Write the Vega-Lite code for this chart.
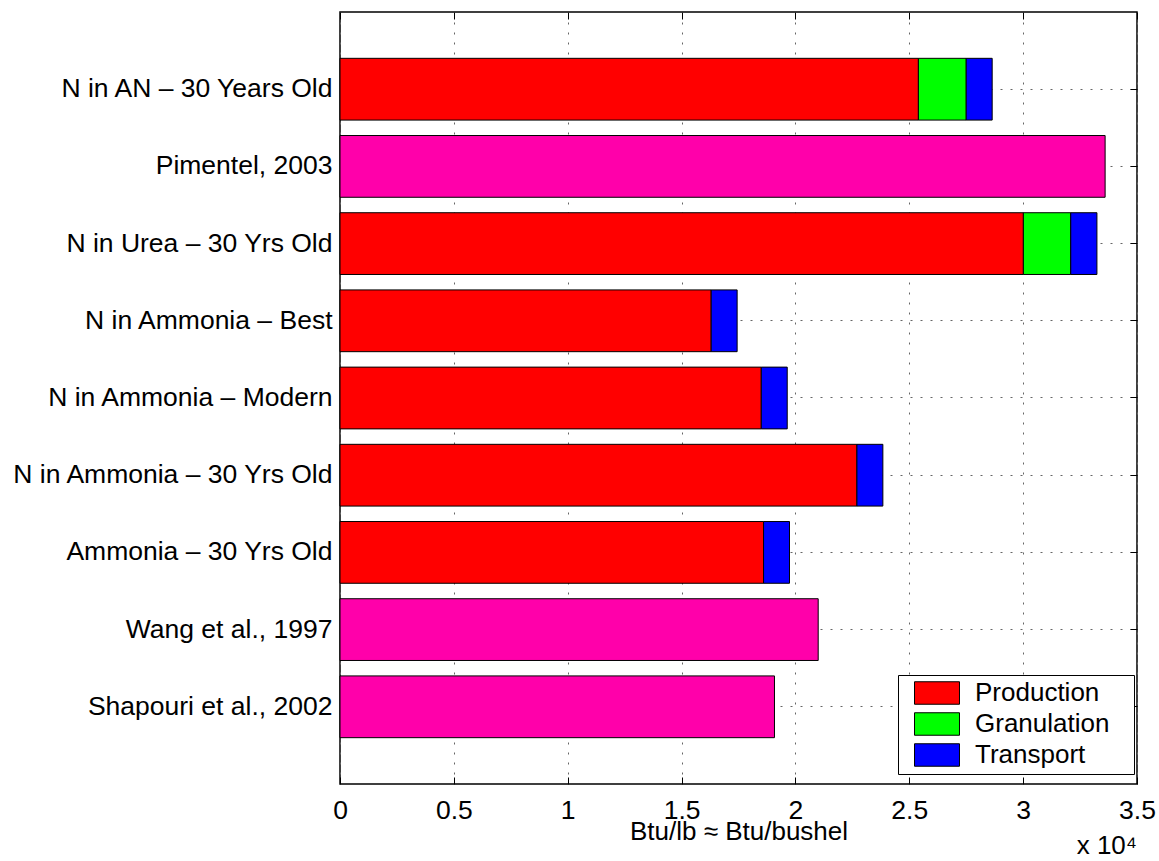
{
  "$schema": "https://vega.github.io/schema/vega-lite/v6.json",
  "width": 797,
  "height": 772,
  "autosize": {"type": "none"},
  "padding": {"left": 340, "top": 12, "right": 22, "bottom": 77},
  "background": "white",
  "config": {
    "font": "Liberation Sans",
    "view": {"stroke": "#000", "strokeWidth": 1.5}
  },
  "title": {"text": "x 10⁴", "orient": "bottom", "anchor": "end", "frame": "group", "fontSize": 26, "fontWeight": "normal", "color": "#000", "offset": -12},
  "data": {
    "values": [
      {"label": "N in AN – 30 Years Old", "component": "Production", "seq": 1, "value": 25400},
      {"label": "N in AN – 30 Years Old", "component": "Granulation", "seq": 2, "value": 2100},
      {"label": "N in AN – 30 Years Old", "component": "Transport", "seq": 3, "value": 1140},
      {"label": "Pimentel, 2003", "component": "Reference", "seq": 1, "value": 33600},
      {"label": "N in Urea – 30 Yrs Old", "component": "Production", "seq": 1, "value": 30010},
      {"label": "N in Urea – 30 Yrs Old", "component": "Granulation", "seq": 2, "value": 2080},
      {"label": "N in Urea – 30 Yrs Old", "component": "Transport", "seq": 3, "value": 1150},
      {"label": "N in Ammonia – Best", "component": "Production", "seq": 1, "value": 16300},
      {"label": "N in Ammonia – Best", "component": "Transport", "seq": 3, "value": 1140},
      {"label": "N in Ammonia – Modern", "component": "Production", "seq": 1, "value": 18500},
      {"label": "N in Ammonia – Modern", "component": "Transport", "seq": 3, "value": 1140},
      {"label": "N in Ammonia – 30 Yrs Old", "component": "Production", "seq": 1, "value": 22700},
      {"label": "N in Ammonia – 30 Yrs Old", "component": "Transport", "seq": 3, "value": 1140},
      {"label": "Ammonia – 30 Yrs Old", "component": "Production", "seq": 1, "value": 18600},
      {"label": "Ammonia – 30 Yrs Old", "component": "Transport", "seq": 3, "value": 1140},
      {"label": "Wang et al., 1997", "component": "Reference", "seq": 1, "value": 21000},
      {"label": "Shapouri et al., 2002", "component": "Reference", "seq": 1, "value": 19080}
    ]
  },
  "layer": [
    {
      "mark": {"type": "bar", "stroke": "#000", "strokeWidth": 1},
      "encoding": {
        "y": {
          "field": "label", "type": "nominal",
          "sort": ["N in AN – 30 Years Old", "Pimentel, 2003", "N in Urea – 30 Yrs Old", "N in Ammonia – Best", "N in Ammonia – Modern", "N in Ammonia – 30 Yrs Old", "Ammonia – 30 Yrs Old", "Wang et al., 1997", "Shapouri et al., 2002"],
          "scale": {"paddingInner": 0.2, "paddingOuter": 0.6},
          "axis": {"title": null, "labelFontSize": 26.5, "labelColor": "#000", "labelLimit": 500, "labelPadding": 15, "tickSize": -7, "tickColor": "#000", "domain": false, "grid": true, "gridColor": "#666", "gridDash": [2, 8], "bandPosition": 0.5}
        },
        "x": {
          "field": "value", "type": "quantitative", "stack": "zero",
          "scale": {"domain": [0, 35000], "nice": false},
          "axis": {"values": [0, 5000, 10000, 15000, 20000, 25000, 30000, 35000], "labelExpr": "datum.value / 10000", "title": "Btu/lb ≈ Btu/bushel", "titleFontSize": 26, "titleFontWeight": "normal", "titleColor": "#000", "titlePadding": -5, "labelFontSize": 26.5, "labelColor": "#000", "labelPadding": 20, "labelFlush": false, "labelOverlap": false, "tickSize": -7, "tickColor": "#000", "domain": false, "grid": true, "gridColor": "#666", "gridDash": [2, 8]}
        },
        "color": {
          "field": "component", "type": "nominal",
          "scale": {"domain": ["Production", "Granulation", "Transport", "Reference"], "range": ["#ff0000", "#00ff00", "#0000ff", "#ff00aa"]},
          "legend": {"orient": "none", "legendX": 558, "legendY": 663, "title": null, "values": ["Production", "Granulation", "Transport"], "strokeColor": "#000", "fillColor": "#fff", "padding": 5, "symbolType": "M-2,-1H2V1H-2Z", "symbolSize": 506, "symbolStrokeColor": "#000", "symbolStrokeWidth": 1, "symbolOpacity": 1, "symbolOffset": 21, "labelOffset": 25, "labelFontSize": 26, "labelColor": "#000", "labelLimit": 400, "rowPadding": 3, "labelExpr": "datum.label + '\u2800'"}
        },
        "order": {"field": "seq", "type": "quantitative"}
      }
    },
    {
      "mark": {"type": "bar", "opacity": 0},
      "encoding": {
        "y": {
          "field": "label", "type": "nominal",
          "sort": ["N in AN – 30 Years Old", "Pimentel, 2003", "N in Urea – 30 Yrs Old", "N in Ammonia – Best", "N in Ammonia – Modern", "N in Ammonia – 30 Yrs Old", "Ammonia – 30 Yrs Old", "Wang et al., 1997", "Shapouri et al., 2002"],
          "axis": {"orient": "right", "title": null, "labels": false, "tickSize": -7, "tickColor": "#000", "domain": false, "grid": false, "bandPosition": 0.5}
        },
        "x": {
          "field": "value", "type": "quantitative", "stack": "zero",
          "axis": {"orient": "top", "values": [0, 5000, 10000, 15000, 20000, 25000, 30000, 35000], "title": null, "labels": false, "tickSize": -7, "tickColor": "#000", "domain": false, "grid": false}
        }
      }
    }
  ],
  "resolve": {"axis": {"x": "independent", "y": "independent"}}
}
